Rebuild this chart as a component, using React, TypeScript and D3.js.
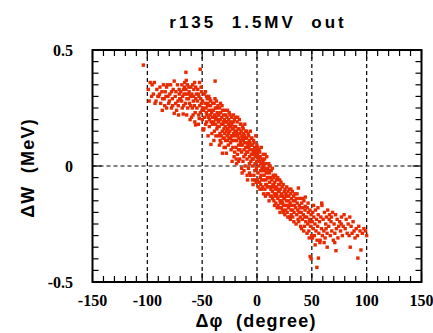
import React from "react";
import * as d3 from "d3";

const title = "r135  1.5MV  out";
const xLabel = "Δφ  (degree)";
const yLabel = "ΔW  (MeV)";
const xTickValues = [-150, -100, -50, 0, 50, 100, 150];
const yTickValues = [0.5, 0, -0.5];
const xGridValues = [-100, -50, 0, 50, 100];
const yGridValues = [0];

// (Δφ [deg], ΔW [MeV])
const samples: [number, number][] = [
  [-103.6,0.435],
  [-99.2,0.33],[-97.4,0.36],[-96.1,0.30],[-95.6,0.35],[-98.3,0.28],
  [-93.6,0.36],[-94.5,0.31],[-92.1,0.28],[-91.3,0.33],[-90.4,0.30],[-93.0,0.27],
  [-88.5,0.34],[-86.7,0.32],[-86.0,0.29],[-86.4,0.24],[-89.6,0.30],[-87.8,0.27],[-85.3,0.35],[-88.9,0.31],
  [-82.4,0.34],[-82.4,0.25],[-84.6,0.29],[-83.7,0.32],[-81.2,0.30],[-80.5,0.27],[-84.1,0.26],[-81.8,0.35],[-83.0,0.30],
  [-78.8,0.35],[-75.5,0.366],[-78.0,0.25],[-75.5,0.227],[-79.5,0.31],[-77.2,0.29],[-76.4,0.33],[-79.9,0.28],[-76.9,0.26],[-77.9,0.32],
  [-73.3,0.24],[-71.0,0.33],[-71.8,0.26],[-74.6,0.30],[-72.5,0.35],[-70.4,0.29],[-73.9,0.32],[-72.1,0.28],[-70.9,0.31],[-74.2,0.27],[-71.5,0.22],
  [-67.3,0.224],[-68.8,0.28],[-69.5,0.32],[-66.1,0.34],[-67.8,0.30],[-65.4,0.27],[-68.2,0.25],[-69.9,0.29],[-66.6,0.31],[-65.9,0.36],[-67.0,0.33],[-68.5,0.35],[-65.2,0.31],[-66.8,0.26],
  [-64.8,0.404],[-64.5,0.369],[-64.8,0.33],[-60.3,0.34],[-61.0,0.20],[-63.9,0.29],[-62.7,0.31],[-61.6,0.27],[-63.2,0.25],[-62.1,0.34],[-60.8,0.30],[-64.1,0.22],[-61.9,0.32],[-63.5,0.35],[-60.5,0.26],[-62.4,0.29],
  [-56.7,0.19],[-56.0,0.177],[-59.4,0.31],[-58.1,0.28],[-57.6,0.33],[-55.8,0.29],[-59.0,0.25],[-57.1,0.26],[-58.6,0.35],[-55.3,0.31],[-56.4,0.23],[-59.7,0.21],[-57.9,0.30],[-55.9,0.34],[-58.3,0.22],[-56.9,0.36],
  [-52.7,0.205],[-50.6,0.32],[-51.8,0.417],[-54.5,0.28],[-53.6,0.31],[-52.2,0.26],[-51.3,0.29],[-50.2,0.24],[-54.0,0.33],[-53.1,0.22],[-51.0,0.34],[-52.9,0.30],[-54.8,0.25],[-50.8,0.27],[-53.4,0.18],[-51.6,0.23],[-52.4,0.36],
  [-49.1,0.155],[-49.6,0.28],[-48.7,0.24],[-48.2,0.31],[-47.9,0.21],[-47.3,0.27],[-46.8,0.18],[-46.5,0.25],[-46.0,0.30],[-45.6,0.22],[-45.2,0.26],[-49.8,0.20],[-48.4,0.16],[-47.0,0.32],[-45.9,0.19],[-49.3,0.25],[-46.2,0.23],[-45.4,0.29],
  [-42.0,0.093],[-38.2,0.366],[-44.8,0.27],[-44.3,0.21],[-43.9,0.24],[-43.5,0.17],[-43.1,0.29],[-42.7,0.22],[-42.4,0.26],[-41.9,0.19],[-41.5,0.24],[-41.1,0.14],[-40.7,0.21],[-40.3,0.27],[-44.6,0.13],[-43.3,0.20],[-42.2,0.28],[-41.3,0.23],[-40.5,0.18],[-44.0,0.30],
  [-39.8,0.24],[-39.5,0.19],[-39.1,0.27],[-38.8,0.15],[-38.5,0.22],[-38.0,0.25],[-37.7,0.18],[-37.3,0.21],[-37.0,0.28],[-36.6,0.16],[-36.3,0.23],[-35.9,0.20],[-35.6,0.26],[-35.2,0.13],[-39.3,0.11],[-38.3,0.29],[-37.5,0.13],[-36.8,0.25],[-36.0,0.17],[-35.4,0.22],[-39.6,0.21],[-37.9,0.20],
  [-34.8,0.22],[-34.5,0.17],[-34.1,0.25],[-33.8,0.14],[-33.5,0.20],[-33.1,0.23],[-32.8,0.10],[-32.4,0.18],[-32.1,0.21],[-31.7,0.15],[-31.5,0.055],[-31.2,0.24],[-30.9,0.12],[-30.6,0.19],[-30.2,0.16],[-34.3,0.09],[-33.3,0.27],[-32.6,0.13],[-31.9,0.26],[-31.0,0.18],[-30.4,0.22],[-34.9,0.19],[-33.6,0.11],[-30.0,0.08],
  [-29.7,0.20],[-29.4,0.14],[-29.0,0.17],[-28.7,0.11],[-28.4,0.22],[-27.9,0.055],[-28.1,0.15],[-27.6,0.19],[-27.2,0.13],[-26.9,0.24],[-26.5,0.16],[-26.2,0.09],[-25.8,0.20],[-25.5,0.12],[-25.2,0.17],[-29.2,0.24],[-28.9,0.08],[-27.4,0.21],[-26.7,0.11],[-26.0,0.18],[-25.4,0.23],[-29.9,0.12],[-27.0,0.16],[-25.9,0.14],[-28.5,0.19],
  [-24.8,0.15],[-24.4,0.19],[-24.1,0.10],[-23.8,0.17],[-23.4,0.13],[-23.1,0.21],[-22.7,0.02],[-22.8,0.11],[-22.4,0.16],[-22.0,0.08],[-21.7,0.19],[-21.3,0.14],[-21.0,0.11],[-20.6,0.17],[-20.3,0.06],[-24.6,0.22],[-23.6,0.07],[-23.0,0.18],[-22.2,0.13],[-21.5,0.22],[-20.9,0.04],[-20.1,0.15],[-24.2,0.12],[-21.9,0.16],[-20.5,0.20],
  [-19.8,0.13],[-19.5,0.17],[-19.1,0.08],[-18.8,0.15],[-18.5,0.11],[-18.1,0.19],[-17.8,0.05],[-17.5,0.13],[-17.1,0.16],[-16.8,0.09],[-16.5,0.12],[-16.1,0.20],[-15.8,0.03],[-15.5,0.14],[-15.2,0.10],[-19.7,0.21],[-19.0,0.03],[-18.3,0.14],[-17.6,0.21],[-17.0,0.07],[-16.3,0.16],[-15.6,0.07],[-15.1,0.18],[-18.6,0.01],[-16.9,0.02],[-19.3,0.11],
  [-14.8,0.11],[-14.5,0.15],[-14.1,0.06],[-13.8,0.13],[-13.5,0.09],[-13.1,0.17],[-12.8,0.02],[-12.5,0.11],[-12.1,0.14],[-11.8,0.07],[-11.5,0.10],[-11.1,0.18],[-10.8,0.00],[-10.5,0.12],[-10.2,0.08],[-14.7,0.18],[-14.0,-0.01],[-13.3,0.12],[-12.6,0.16],[-12.0,0.04],[-11.3,0.13],[-10.6,0.05],[-10.1,0.15],[-13.6,-0.03],[-11.9,-0.02],[-14.3,0.09],
  [-9.8,0.08],[-9.5,0.12],[-9.1,0.03],[-8.8,0.10],[-8.5,0.06],[-8.1,0.14],[-7.8,-0.01],[-7.5,0.08],[-7.1,0.11],[-6.8,0.04],[-6.5,0.07],[-6.1,0.15],[-5.8,-0.04],[-5.5,0.09],[-5.2,0.05],[-9.7,0.15],[-9.0,-0.04],[-8.3,0.09],[-7.6,0.13],[-7.0,0.01],[-6.3,0.10],[-5.6,0.02],[-5.1,0.12],[-8.6,-0.06],[-6.9,-0.03],[-9.3,0.06],
  [-4.8,0.05],[-4.5,0.09],[-4.1,0.00],[-3.8,0.07],[-3.5,0.03],[-3.1,0.11],[-2.8,-0.04],[-2.5,0.05],[-2.1,0.08],[-1.8,0.01],[-1.5,0.04],[-1.1,0.13],[-0.8,-0.07],[-0.5,0.06],[-0.2,0.02],[-4.7,0.12],[-4.0,-0.06],[-3.3,0.06],[-2.6,0.10],[-2.0,-0.02],[-1.3,0.07],[-0.6,-0.01],[-0.1,0.09],[-3.6,-0.08],[-1.9,-0.06],[-4.3,0.03],
  [0.2,0.02],[0.5,0.05],[0.9,-0.03],[1.2,0.04],[1.5,0.00],[1.9,0.07],[2.2,-0.07],[2.5,0.02],[2.9,0.04],[3.2,-0.02],[3.5,0.01],[3.9,0.08],[4.2,-0.10],[4.5,-0.01],[4.8,0.03],[0.3,-0.06],[1.0,-0.09],[1.7,0.03],[2.4,0.06],[3.0,-0.05],[3.7,-0.04],[4.4,-0.06],[4.9,0.01],[0.7,0.08],[2.7,-0.10],[3.4,-0.08],
  [5.2,-0.02],[5.5,0.02],[5.9,-0.06],[6.2,0.00],[6.5,-0.04],[6.9,0.03],[7.2,-0.10],[7.5,-0.02],[7.9,0.01],[8.2,-0.06],[8.5,-0.03],[8.9,0.04],[9.2,-0.12],[9.5,-0.05],[9.8,-0.01],[5.3,-0.09],[6.0,-0.12],[6.7,-0.01],[7.4,0.05],[8.0,-0.08],[8.7,-0.08],[9.4,-0.09],[5.7,0.05],[7.7,-0.13],
  [10.2,-0.05],[10.5,-0.02],[10.9,-0.09],[11.2,-0.03],[11.5,-0.07],[11.9,0.00],[12.2,-0.13],[12.5,-0.05],[12.9,-0.02],[13.2,-0.09],[13.5,-0.06],[13.9,-0.01],[14.2,-0.14],[14.5,-0.08],[14.8,-0.04],[10.4,-0.12],[11.0,-0.15],[11.7,-0.05],[12.7,-0.10],[13.4,-0.13],[14.0,-0.11],[10.7,0.01],
  [15.2,-0.08],[15.5,-0.05],[15.9,-0.12],[16.2,-0.07],[16.5,-0.10],[16.9,-0.04],[17.2,-0.16],[17.5,-0.09],[17.9,-0.06],[18.2,-0.13],[18.5,-0.10],[18.9,-0.05],[19.2,-0.17],[19.5,-0.11],[19.8,-0.08],[15.4,-0.15],[16.0,-0.17],[16.7,-0.13],[17.7,-0.12],[18.4,-0.18],[19.0,-0.14],[15.7,-0.09],
  [20.2,-0.11],[20.5,-0.08],[20.9,-0.15],[21.2,-0.10],[21.5,-0.13],[21.9,-0.07],[22.2,-0.18],[22.5,-0.12],[22.9,-0.09],[23.2,-0.16],[23.5,-0.13],[23.9,-0.08],[24.2,-0.20],[24.5,-0.14],[24.8,-0.11],[20.4,-0.18],[21.0,-0.20],[21.7,-0.16],[22.7,-0.15],[23.4,-0.19],[24.0,-0.17],[20.7,-0.06],
  [25.2,-0.14],[25.6,-0.10],[26.0,-0.17],[26.4,-0.12],[26.8,-0.15],[27.1,-0.09],[27.5,-0.20],[27.9,-0.13],[28.3,-0.11],[28.7,-0.18],[29.0,-0.15],[29.4,-0.10],[29.8,-0.22],[25.4,-0.21],[26.2,-0.19],[27.3,-0.17],[28.1,-0.22],[28.9,-0.13],[29.6,-0.17],[26.6,-0.13],
  [30.2,-0.16],[30.6,-0.12],[31.0,-0.19],[31.4,-0.14],[31.8,-0.17],[32.2,-0.11],[32.6,-0.22],[33.0,-0.15],[33.4,-0.13],[33.8,-0.20],[34.2,-0.17],[34.6,-0.12],[30.4,-0.23],[31.2,-0.21],[32.4,-0.19],[33.6,-0.24],[34.8,-0.15],[30.9,-0.10],
  [35.3,-0.18],[35.8,-0.14],[36.3,-0.21],[36.7,-0.16],[37.2,-0.19],[37.7,-0.095],[38.1,-0.24],[38.6,-0.17],[39.0,-0.14],[39.5,-0.22],[35.6,-0.25],[36.5,-0.12],[37.4,-0.23],[38.3,-0.20],[39.2,-0.18],[39.8,-0.26],
  [40.3,-0.20],[40.8,-0.16],[41.3,-0.23],[41.8,-0.18],[42.3,-0.21],[42.8,-0.15],[43.3,-0.26],[43.8,-0.19],[44.0,-0.134],[44.0,-0.174],[44.5,-0.24],[40.6,-0.27],[41.6,-0.14],[42.6,-0.28],[43.6,-0.22],
  [45.3,-0.22],[45.8,-0.18],[46.3,-0.25],[46.8,-0.20],[47.3,-0.28],[47.8,-0.23],[48.3,-0.19],[48.5,-0.39],[49.4,-0.40],[48.8,-0.26],[49.3,-0.21],[49.8,-0.30],[45.6,-0.29],[46.6,-0.16],[47.6,-0.31],[48.1,-0.24],
  [50.3,-0.24],[50.8,-0.20],[51.3,-0.27],[51.8,-0.22],[52.3,-0.30],[52.8,-0.25],[53.3,-0.19],[53.8,-0.28],[54.3,-0.23],[54.6,-0.437],[54.8,-0.32],[50.6,-0.31],[51.6,-0.17],[53.0,-0.34],
  [55.3,-0.26],[55.8,-0.21],[56.0,-0.397],[56.4,-0.29],[57.0,-0.24],[57.6,-0.32],[58.2,-0.22],[58.8,-0.27],[59.0,-0.16],[59.2,-0.17],[59.6,-0.30],[55.6,-0.18],[57.3,-0.33],
  [60.3,-0.23],[60.9,-0.28],[61.5,-0.20],[62.1,-0.31],[62.7,-0.25],[63.3,-0.22],[63.9,-0.29],[64.0,-0.35],[64.5,-0.19],[61.2,-0.33],[63.0,-0.27],
  [65.4,-0.26],[66.1,-0.21],[66.8,-0.30],[67.5,-0.24],[68.2,-0.28],[68.9,-0.20],[69.6,-0.32],[65.8,-0.23],[67.9,-0.22],
  [70.3,-0.25],[71.0,-0.29],[71.7,-0.21],[72.0,-0.365],[72.4,-0.27],[73.1,-0.23],[73.8,-0.31],[74.5,-0.26],[70.9,-0.33],
  [75.4,-0.24],[76.2,-0.28],[77.0,-0.22],[77.8,-0.30],[78.6,-0.26],[79.4,-0.21],[76.8,-0.25],
  [80.4,-0.27],[81.3,-0.23],[82.2,-0.29],[83.1,-0.25],[84.0,-0.30],[85.0,-0.35],[84.6,-0.22],
  [85.8,-0.26],[86.7,-0.29],[87.6,-0.24],[88.5,-0.28],[89.4,-0.31],
  [90.5,-0.27],[92.0,-0.397],[91.6,-0.30],[92.8,-0.26],[94.8,-0.362],[93.9,-0.28],
  [96.0,-0.29],[97.5,-0.27],[99.0,-0.28],[100.0,-0.30]
];

const W = 433, H = 333;
const L = 92.5, R = 421.5, T = 50, B = 282;

export default function App() {
  const x = d3.scaleLinear().domain([-150, 150]).range([L, R]);
  const y = d3.scaleLinear().domain([-0.5, 0.5]).range([B, T]);
  const xMinor = d3.range(-150, 151, 10);
  const yMinor = d3.range(0, 21).map(i => -0.5 + i * 0.05);
  const ms = 3.4;
  const tickFont = "'Liberation Serif', 'Times New Roman', Times, serif";
  const sans = "'Liberation Sans', Arial, Helvetica, sans-serif";
  return (
    <svg width={W} height={H} style={{ position: "absolute", left: 0, top: 0, background: "#fff" }}>
      <rect x={0} y={0} width={W} height={H} fill="#fff" />
      <text x={258} y={28} textAnchor="middle" style={{ fontFamily: sans, fontWeight: 700, fontSize: 17, letterSpacing: 3, whiteSpace: "pre" }}>{title}</text>
      {xGridValues.map(v => (
        <line key={"gx" + v} x1={x(v)} x2={x(v)} y1={T} y2={B} stroke="#000" strokeWidth={1.2} strokeDasharray="4,3" />
      ))}
      {yGridValues.map(v => (
        <line key={"gy" + v} x1={L} x2={R} y1={y(v)} y2={y(v)} stroke="#000" strokeWidth={1.2} strokeDasharray="4,3" />
      ))}
      {xMinor.map(v => {
        const len = v % 50 === 0 ? 9 : 6;
        return (
          <g key={"tx" + v}>
            <line x1={x(v)} x2={x(v)} y1={B} y2={B - len} stroke="#000" strokeWidth={1.2} />
            <line x1={x(v)} x2={x(v)} y1={T} y2={T + len} stroke="#000" strokeWidth={1.2} />
          </g>
        );
      })}
      {yMinor.map((v, i) => {
        const len = i % 10 === 0 ? 9 : 6;
        return (
          <g key={"ty" + i}>
            <line x1={L} x2={L + len} y1={y(v)} y2={y(v)} stroke="#000" strokeWidth={1.2} />
            <line x1={R} x2={R - len} y1={y(v)} y2={y(v)} stroke="#000" strokeWidth={1.2} />
          </g>
        );
      })}
      {samples.map(([p, w], i) => (
        <rect key={i} x={x(p) - ms / 2} y={y(w) - ms / 2} width={ms} height={ms} fill="#e82a00" />
      ))}
      <rect x={L} y={T} width={R - L} height={B - T} fill="none" stroke="#000" strokeWidth={2} />
      {xTickValues.map(v => (
        <text key={"lx" + v} x={x(v)} y={306} textAnchor="middle" style={{ fontFamily: tickFont, fontWeight: 700, fontSize: 16 }}>{v}</text>
      ))}
      {yTickValues.map(v => (
        <text key={"ly" + v} x={73} y={y(v) + 5.5} textAnchor="end" style={{ fontFamily: tickFont, fontWeight: 700, fontSize: 16 }}>{v}</text>
      ))}
      <text x={256} y={327} textAnchor="middle" style={{ fontFamily: sans, fontWeight: 700, fontSize: 18, letterSpacing: 1.2, whiteSpace: "pre" }}>{xLabel}</text>
      <text transform={`translate(34,${(T + B) / 2 + 2}) rotate(-90)`} textAnchor="middle" style={{ fontFamily: sans, fontWeight: 700, fontSize: 18, letterSpacing: 1.2, whiteSpace: "pre" }}>{yLabel}</text>
    </svg>
  );
}
